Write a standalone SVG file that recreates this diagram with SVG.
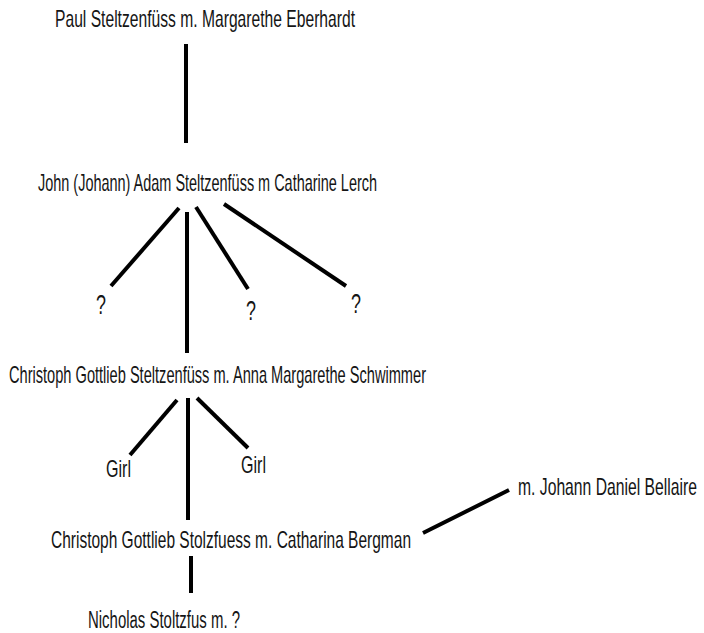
<svg xmlns="http://www.w3.org/2000/svg" width="704" height="633" viewBox="0 0 704 633">
<style>
text { font-family: "Liberation Sans", Arial, sans-serif; fill: #151515; font-size: 24px; }
.q { font-size: 27px; }
.sm { font-size: 23px; }
#connectors line { stroke: #000; stroke-width: 4; stroke-linecap: butt; }
</style>
<rect width="704" height="633" fill="#fff"/>
<g id="connectors">
<line x1="186" y1="44" x2="186" y2="143"/>
<line x1="179" y1="208" x2="111" y2="286"/>
<line x1="187" y1="212" x2="187" y2="353"/>
<line x1="196" y1="207" x2="248" y2="289"/>
<line x1="224" y1="204" x2="346" y2="286"/>
<line x1="177" y1="400" x2="130" y2="455"/>
<line x1="188" y1="398" x2="188" y2="520"/>
<line x1="197" y1="398" x2="248" y2="448"/>
<line x1="423" y1="533" x2="509" y2="490"/>
<line x1="191" y1="556" x2="191" y2="593"/>
</g>
<g id="paul"><text x="55" y="27" textLength="300" lengthAdjust="spacingAndGlyphs">Paul Steltzenfüss m. Margarethe Eberhardt</text></g>
<g id="john"><text x="38" y="191" textLength="339" lengthAdjust="spacingAndGlyphs">John (Johann) Adam Steltzenfüss m Catharine Lerch</text></g>
<g id="q1"><text class="q" x="96" y="314" textLength="10" lengthAdjust="spacingAndGlyphs">?</text></g>
<g id="q2"><text class="q" x="246" y="320" textLength="10" lengthAdjust="spacingAndGlyphs">?</text></g>
<g id="q3"><text class="q" x="351" y="313" textLength="10" lengthAdjust="spacingAndGlyphs">?</text></g>
<g id="christoph1"><text x="9" y="383" textLength="417" lengthAdjust="spacingAndGlyphs">Christoph Gottlieb Steltzenfüss m. Anna Margarethe Schwimmer</text></g>
<g id="girl1"><text x="106" y="477" textLength="25" lengthAdjust="spacingAndGlyphs">Girl</text></g>
<g id="girl2"><text x="241" y="473" textLength="25" lengthAdjust="spacingAndGlyphs">Girl</text></g>
<g id="christoph2"><text x="51" y="548" textLength="360" lengthAdjust="spacingAndGlyphs">Christoph Gottlieb Stolzfuess m. Catharina Bergman</text></g>
<g id="bellaire"><text class="sm" transform="translate(518,495) scale(0.683,1)" x="0" y="0">m. Johann Daniel Bellaire</text></g>
<g id="nicholas"><text class="sm" x="88" y="628" textLength="152" lengthAdjust="spacingAndGlyphs">Nicholas Stoltzfus m. ?</text></g>
</svg>
